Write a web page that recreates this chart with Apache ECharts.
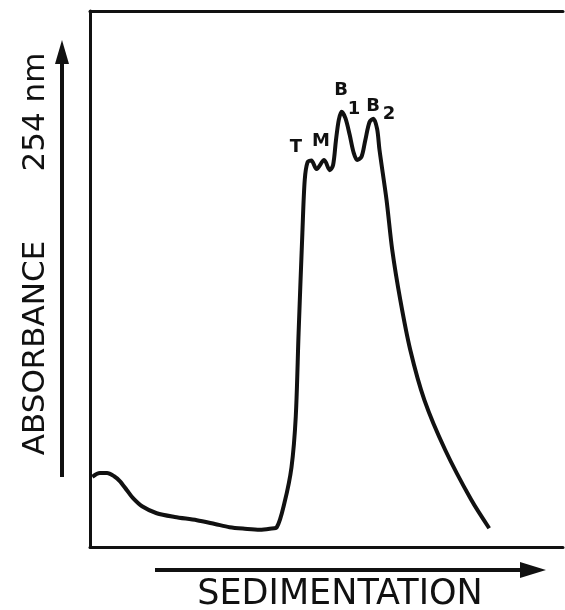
<!DOCTYPE html>
<html>
<head>
<meta charset="utf-8">
<script src="https://cdn.jsdelivr.net/npm/echarts@6/dist/echarts.min.js"></script>
<style>
  html, body { margin: 0; padding: 0; background: #fff; }
  #chart { width: 565px; height: 610px; }
</style>
</head>
<body>
<div id="chart"></div>
<script>
// sedimentation position (0-100) and absorbance (0-100)
const sedimentation = [
  0.5, 2.1, 3.6, 5.1, 6.3, 7.8, 9.1, 11.0, 14.1, 17.9, 22.6, 26.4, 29.5, 32.7, 35.9,
  38.0, 39.5, 41.1, 42.6, 43.5, 44.1, 44.9, 45.4, 46.0, 46.8, 47.9, 49.5,
  50.7, 51.4, 52.0, 52.6, 53.2, 54.0, 54.9, 55.7, 56.5, 57.4, 58.2, 59.1, 59.9,
  60.7, 61.2, 62.7, 63.9, 65.6, 67.7, 70.7, 75.1, 80.6, 84.4
];
const absorbance = [
  13.1, 13.8, 13.8, 13.2, 12.3, 10.6, 9.1, 7.6, 6.3, 5.6, 5.0, 4.3, 3.7, 3.4, 3.2,
  3.4, 3.7, 8.2, 14.9, 24.3, 39.9, 58.6, 68.5, 71.8, 72.1, 70.5, 72.2,
  70.3, 71.3, 75.9, 79.7, 81.2, 80.0, 76.9, 73.7, 72.2, 72.8, 75.9, 79.3, 79.9,
  78.0, 74.1, 64.7, 55.4, 46.1, 36.8, 27.4, 18.1, 8.8, 3.5
];
const peakLabels = ['T', 'M', 'B', '1', 'B', '2'];

const chart = echarts.init(document.getElementById('chart'));
const font = 'DejaVu Sans';

const peakPos = [[296, 147], [321, 141], [341, 90], [354, 109], [373, 106], [389, 114]];

const options = {
  animation: false,
  backgroundColor: '#fff',
  grid: { left: 90, right: 2, top: 11, bottom: 63 },
  xAxis: [
    {
      type: 'value', min: 0, max: 100, position: 'bottom',
      axisLine: { show: true, lineStyle: { color: '#111', width: 3 } },
      axisTick: { show: false }, axisLabel: { show: false }, splitLine: { show: false }
    },
    {
      type: 'value', min: 0, max: 100, position: 'top',
      axisLine: { show: true, lineStyle: { color: '#111', width: 3 } },
      axisTick: { show: false }, axisLabel: { show: false }, splitLine: { show: false }
    }
  ],
  yAxis: {
    type: 'value', min: 0, max: 100,
    axisLine: { show: true, lineStyle: { color: '#111', width: 3 } },
    axisTick: { show: false }, axisLabel: { show: false }, splitLine: { show: false }
  },
  series: [
    {
      type: 'line',
      data: sedimentation.map((x, i) => [x, absorbance[i]]),
      smooth: 0.3,
      symbol: 'none',
      lineStyle: { color: '#111', width: 4 }
    }
  ],
  graphic: [
    // y arrow
    { type: 'line', shape: { x1: 62, y1: 477, x2: 62, y2: 58 }, style: { stroke: '#111', lineWidth: 4 } },
    { type: 'polygon', shape: { points: [[62, 40], [55, 64], [69, 64]] }, style: { fill: '#111' } },
    // x arrow
    { type: 'line', shape: { x1: 155, y1: 570, x2: 525, y2: 570 }, style: { stroke: '#111', lineWidth: 4 } },
    { type: 'polygon', shape: { points: [[546, 570], [520, 562], [520, 578]] }, style: { fill: '#111' } },
    // axis titles
    {
      type: 'text', x: 36, y: 348, rotation: Math.PI / 2,
      style: { text: 'ABSORBANCE', font: '31px "' + font + '"', fill: '#111', align: 'center', verticalAlign: 'middle' }
    },
    {
      type: 'text', x: 36, y: 112, rotation: Math.PI / 2,
      style: { text: '254 nm', font: '31px "' + font + '"', fill: '#111', align: 'center', verticalAlign: 'middle' }
    },
    {
      type: 'text', x: 340, y: 595,
      style: { text: 'SEDIMENTATION', font: '35px "' + font + '"', fill: '#111', align: 'center', verticalAlign: 'middle' }
    }
  ].concat(peakLabels.map((t, i) => ({
    type: 'text', x: peakPos[i][0], y: peakPos[i][1],
    style: { text: t, font: 'bold 18px "' + font + '"', fill: '#111', align: 'center', verticalAlign: 'middle' }
  })))
};

chart.setOption(options);
</script>
</body>
</html>
